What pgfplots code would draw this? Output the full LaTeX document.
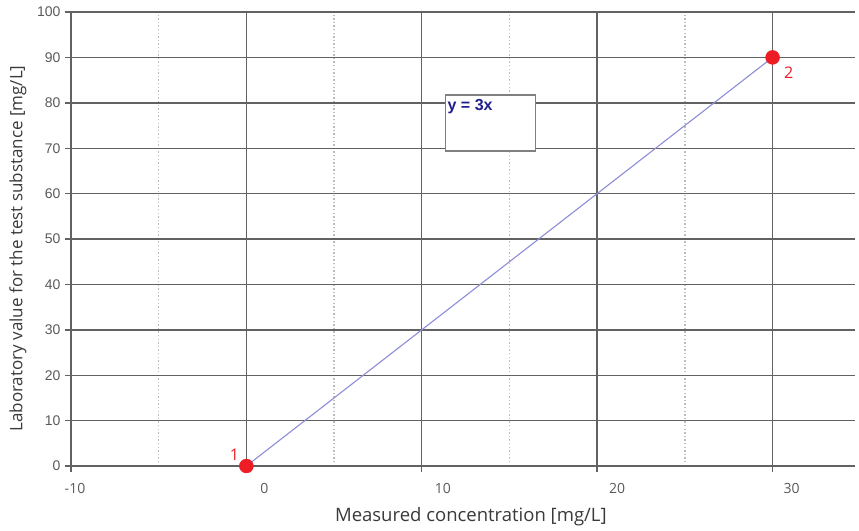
\documentclass[border=0pt]{standalone}
\usepackage{fontspec}
\setmainfont{Open Sans}
\newfontfamily\arialfont{Liberation Sans}
\usepackage{pgfplots}
\pgfplotsset{compat=1.18}
\definecolor{gridc}{HTML}{626262}
\definecolor{minorc}{HTML}{BDBDBD}
\definecolor{ticktext}{HTML}{5A5A5A}
\definecolor{labeltext}{HTML}{3A3A3A}
\definecolor{linec}{HTML}{8C8CD8}
\definecolor{markc}{HTML}{EE1C25}
\definecolor{navy}{HTML}{1F1F8C}
\begin{document}
\begin{tikzpicture}[x=1pt,y=1pt]
\begin{axis}[
  at={(71pt,-466pt)}, anchor=south west,
  scale only axis, width=784pt, height=454pt,
  xmin=-10, xmax=34.7, ymin=0, ymax=100,
  clip=false,
  axis x line*=bottom, axis y line*=left,
  axis line style={gridc, line width=1.5pt},
  xtick={-10,0,10,20,30}, minor xtick={-5,5,15,25},
  ytick={0,10,...,100},
  xticklabels={},
  grid=both,
  major grid style={gridc, line width=1.4pt},
  minor grid style={minorc, line width=1.4pt, dash pattern=on 1.4pt off 2.2pt},
  tick align=outside,
  major tick length=6pt, minor tick length=0pt,
  tick style={gridc, line width=1.4pt},
  /pgf/number format/assume math mode=true,
  yticklabel style={font=\arialfont\fontsize{14}{14}\selectfont, text=ticktext, xshift=-1pt},
  xlabel={Measured concentration [mg/L]},
  ylabel={Laboratory value for the test substance [mg/L]},
  xlabel style={at={(axis description cs:0.510,-0.1123)}, anchor=center, font=\fontsize{18.5}{20}\selectfont, text=labeltext},
  ylabel style={at={(axis description cs:-0.0676,0.479)}, anchor=center, font=\fontsize{17}{18}\selectfont, text=labeltext},
]
\draw[gray, line width=1.2pt, fill=white] (axis cs:11.35,81.7) rectangle (axis cs:16.49,69.4);
\node[anchor=north west, inner sep=2pt, font=\arialfont\bfseries\fontsize{16}{16}\selectfont, text=navy] at (axis cs:11.35,81.2) {y = 3x};
\addplot[color=linec, line width=1.1pt] coordinates {(0,0) (30,90)};
\addplot[only marks, mark=*, mark size=7pt, color=markc] coordinates {(0,0) (30,90)};
\node[font=\fontsize{16}{16}\selectfont, text=markc] at (axis cs:0,0) [xshift=-12pt, yshift=11pt] {1};
\node[font=\fontsize{16}{16}\selectfont, text=markc] at (axis cs:30,90) [xshift=16pt, yshift=-15pt] {2};
\foreach \v/\s in {-10/4, 0/18, 10/21, 20/20, 30/19} {
  \edef\temp{\noexpand\node[font=\noexpand\fontsize{14}{14}\noexpand\selectfont, text=ticktext] at (axis cs:\v,0) [xshift=\s pt, yshift=-22pt] {\v};}
  \temp
}
\end{axis}
\pgfresetboundingbox
\path[use as bounding box] (0,0) rectangle (859pt,-530pt);
\end{tikzpicture}
\end{document}
